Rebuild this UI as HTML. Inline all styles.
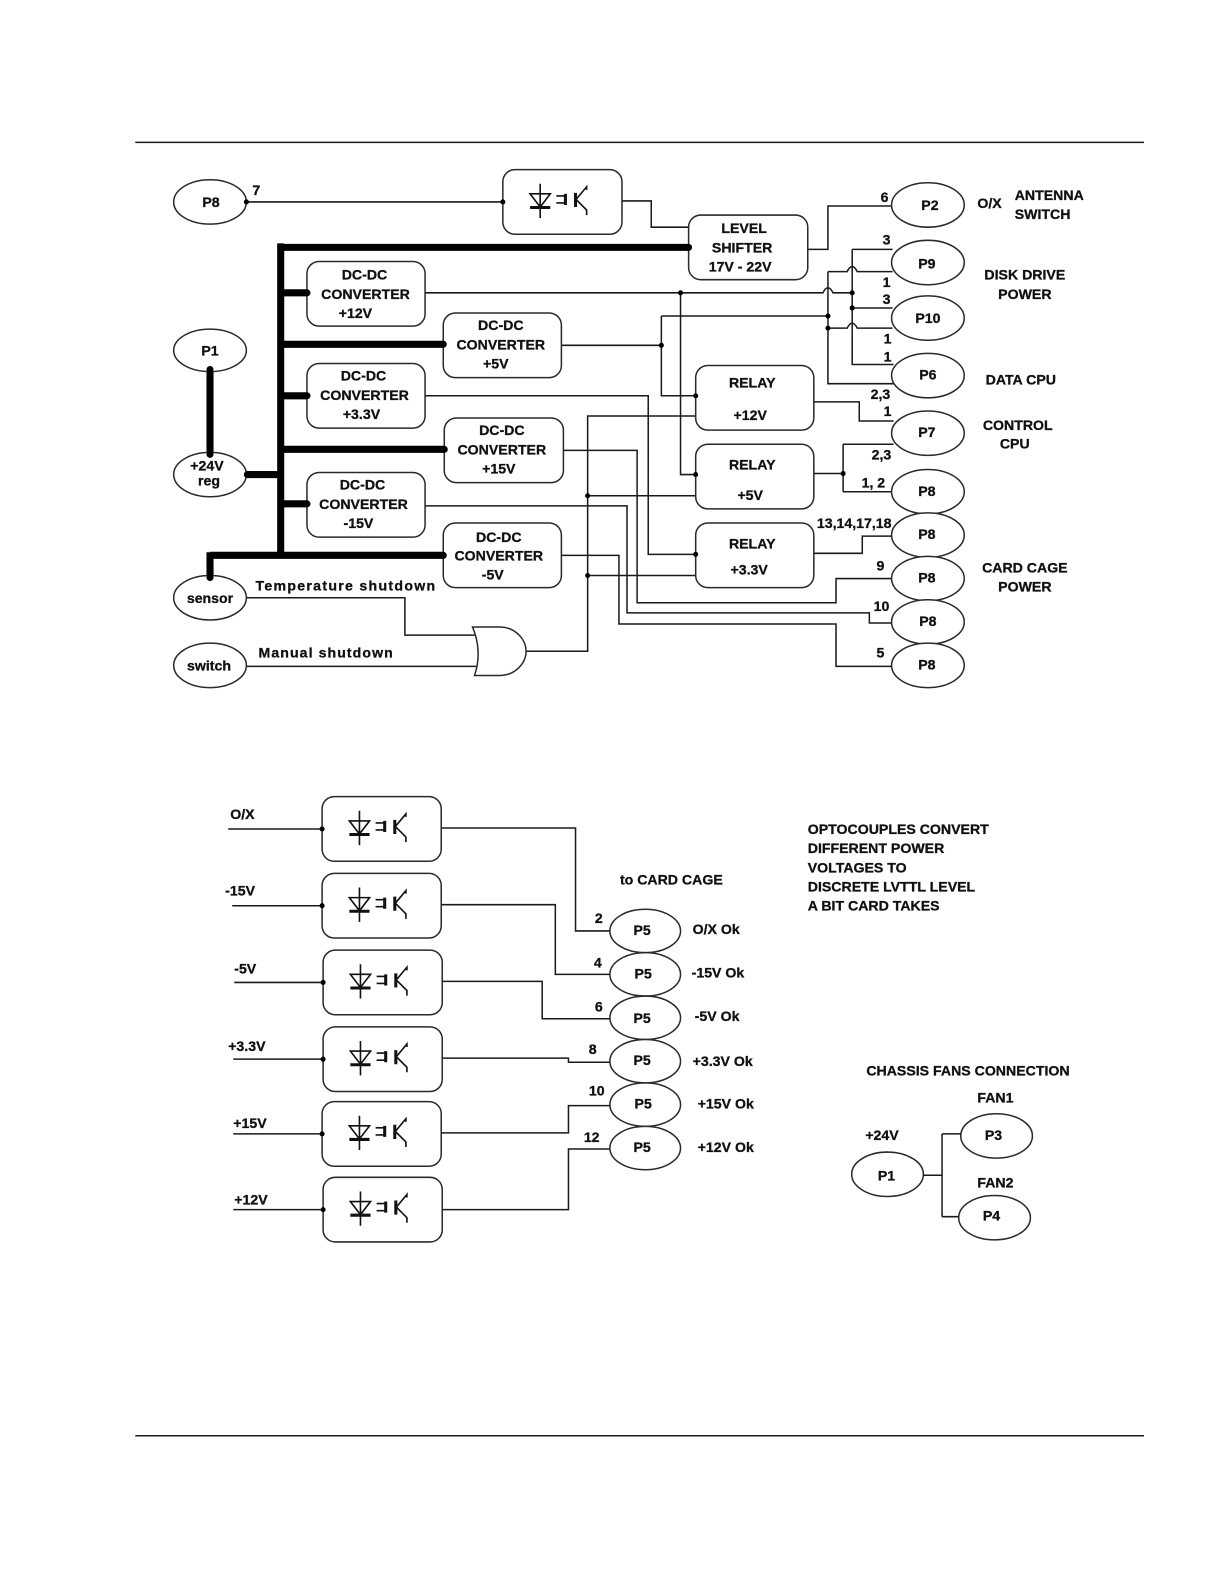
<!DOCTYPE html>
<html><head><meta charset="utf-8"><style>
html,body{margin:0;padding:0;background:#fff}
svg{display:block}
text{font-family:"Liberation Sans",sans-serif;font-weight:bold;font-size:14px;fill:#111;stroke:#111;stroke-width:.3;letter-spacing:0}
.m{text-anchor:middle}
.w{fill:none;stroke:#1a1a1a;stroke-width:1.5}
.t{fill:none;stroke:#000;stroke-width:7}
.b{fill:#fff;stroke:#2a2a2a;stroke-width:1.5}
</style></head><body>
<svg width="1224" height="1584" viewBox="0 0 1224 1584" xmlns="http://www.w3.org/2000/svg">
<defs>
<g id="o">
<rect class="b" x="0" y="0" width="118" height="64" rx="12" ry="12"/>
<g fill="none" stroke="#111" stroke-width="1.6">
<path d="M37 14V48M27 24H47L37 37ZM53 26H61M53 33H61M73 29L83 17V20M73 30L83 40V45"/>
<path d="M27 37.5H47M72 23V37M62 24V35" stroke-width="3"/>
</g>
</g>
</defs>
<g transform="scale(1.0097)">
<path class="w" d="M134 141H1133M134 1422H1133" stroke="#000"/>

<!-- thin wires -->
<path class="w" d="M244 200H498M616 199H645V225H682M800 247H820V204H884
M844 247H884M820 269H839Q844 259 849 269H884M820 269V380H885M844 247V361H885
M421 290H815Q820 280 825 290H844M844 305H884M820 325H839Q844 315 849 325H884
M655 313H820M655 313V392H689M556 342H655
M674 290V470H689
M806 398H851V417H885
M421 392H642V549H689
M521 645H582V412H689M582 491H689M582 570H689
M558 446H631V597H828V573H884
M421 501H621V607H861V617H884
M556 550H613V618H828V660H884
M806 469H835M835 440V487M835 440H885M835 487H884
M806 548H854V531H884
M244 592H401V629H470M244 660H472"/>

<!-- thick wires -->
<path class="t" d="M278 245H682M278 241V550M278 290H304M278 341H439M278 392H304M278 445H440M278 499H304M208 550H439M208 547V572M245 470H278M208 366V450"/>

<!-- OR gate -->
<path class="b" d="M468 621H495C510 621 521 633 521 645C521 657 510 669 495 669H470Q478 645 468 621Z"/>

<!-- boxes -->
<use href="#o" x="498" y="168"/>
<rect class="b" x="682" y="213" width="118" height="64" rx="12"/>
<rect class="b" x="304" y="259" width="117" height="64" rx="12"/>
<rect class="b" x="439" y="310" width="117" height="64" rx="12"/>
<rect class="b" x="304" y="360" width="117" height="64" rx="12"/>
<rect class="b" x="440" y="414" width="118" height="64" rx="12"/>
<rect class="b" x="304" y="468" width="117" height="64" rx="12"/>
<rect class="b" x="439" y="518" width="117" height="64" rx="12"/>
<rect class="b" x="689" y="362" width="117" height="64" rx="12"/>
<rect class="b" x="689" y="440" width="117" height="64" rx="12"/>
<rect class="b" x="689" y="518" width="117" height="64" rx="12"/>

<!-- ellipses -->
<g class="b">
<ellipse cx="208" cy="200" rx="36" ry="22"/><ellipse cx="208" cy="347" rx="36" ry="21"/><ellipse cx="208" cy="470" rx="36" ry="22"/><ellipse cx="208" cy="592" rx="36" ry="22"/><ellipse cx="208" cy="659" rx="36" ry="22"/>
<ellipse cx="919" cy="203" rx="36" ry="22"/><ellipse cx="919" cy="260" rx="36" ry="22"/><ellipse cx="919" cy="315" rx="36" ry="22"/><ellipse cx="919" cy="372" rx="36" ry="22"/><ellipse cx="919" cy="429" rx="36" ry="22"/><ellipse cx="919" cy="487" rx="36" ry="22"/><ellipse cx="919" cy="530" rx="36" ry="22"/><ellipse cx="919" cy="573" rx="36" ry="22"/><ellipse cx="919" cy="616" rx="36" ry="22"/><ellipse cx="919" cy="659" rx="36" ry="22"/>
<ellipse cx="639" cy="922" rx="35" ry="21.5"/><ellipse cx="639" cy="965" rx="35" ry="21.5"/><ellipse cx="639" cy="1008" rx="35" ry="21.5"/><ellipse cx="639" cy="1051" rx="35" ry="21.5"/><ellipse cx="639" cy="1094" rx="35" ry="21.5"/><ellipse cx="639" cy="1137" rx="35" ry="21.5"/>
<ellipse cx="879" cy="1163" rx="35.5" ry="22"/><ellipse cx="987" cy="1125" rx="35.5" ry="22"/><ellipse cx="985" cy="1206" rx="35.5" ry="22"/>
</g>
<path class="w" d="M914 1164H933M933 1123V1205M933 1123H952M933 1205H949"/>

<!-- lower section -->
<use href="#o" x="319" y="789"/><use href="#o" x="319" y="865"/><use href="#o" x="320" y="941"/><use href="#o" x="320" y="1017"/><use href="#o" x="319" y="1091"/><use href="#o" x="320" y="1166"/>
<path class="w" d="M226 821H319M230 897H319M232 973H320M231 1049H320M231 1123H319M231 1198H320
M437 820H570V922H604M437 896H550V965H604M438 972H537V1009H604M438 1048H563V1052H604M437 1122H563V1095H604M438 1198H563V1138H604"/>

<!-- dots -->
<g fill="#000">
<circle cx="244" cy="200" r="2.5"/><circle cx="498" cy="200" r="2.5"/>
<circle cx="682" cy="245" r="3.5"/><circle cx="304" cy="290" r="3.5"/><circle cx="439" cy="341" r="3.5"/><circle cx="304" cy="392" r="3.5"/><circle cx="440" cy="445" r="3.5"/><circle cx="304" cy="499" r="3.5"/><circle cx="439" cy="550" r="3.5"/><circle cx="245" cy="470" r="3.5"/><circle cx="208" cy="366" r="3.5"/><circle cx="208" cy="450" r="3.5"/><circle cx="208" cy="572" r="3.5"/>
<circle cx="674" cy="290" r="2.5"/><circle cx="844" cy="290" r="2.5"/><circle cx="844" cy="305" r="2.5"/><circle cx="820" cy="313" r="2.5"/><circle cx="820" cy="325" r="2.5"/><circle cx="655" cy="342" r="2.5"/><circle cx="689" cy="392" r="2.5"/><circle cx="689" cy="470" r="2.5"/><circle cx="689" cy="549" r="2.5"/><circle cx="582" cy="491" r="2.5"/><circle cx="582" cy="570" r="2.5"/><circle cx="835" cy="469" r="2.5"/>
<circle cx="319" cy="821" r="2.5"/><circle cx="319" cy="897" r="2.5"/><circle cx="320" cy="973" r="2.5"/><circle cx="320" cy="1049" r="2.5"/><circle cx="319" cy="1123" r="2.5"/><circle cx="320" cy="1198" r="2.5"/>
</g>

<!-- labels top -->
<text class="m" x="209" y="205">P8</text><text x="250" y="193">7</text>
<text class="m" x="876" y="200">6</text><text class="m" x="921" y="208">P2</text><text x="968" y="206">O/X</text><text x="1005" y="198">ANTENNA</text><text x="1005" y="217">SWITCH</text>
<text class="m" x="878" y="242">3</text><text class="m" x="918" y="266">P9</text><text class="m" x="878" y="284">1</text><text class="m" x="878" y="301">3</text><text class="m" x="919" y="320">P10</text><text class="m" x="879" y="340">1</text><text class="m" x="879" y="358">1</text><text class="m" x="919" y="376">P6</text><text class="m" x="872" y="395">2,3</text><text class="m" x="879" y="412">1</text><text class="m" x="918" y="433">P7</text><text class="m" x="873" y="455">2,3</text><text class="m" x="865" y="483">1, 2</text><text class="m" x="918" y="491">P8</text><text class="m" x="846" y="523">13,14,17,18</text><text class="m" x="918" y="534">P8</text><text class="m" x="872" y="565">9</text><text class="m" x="918" y="577">P8</text><text class="m" x="873" y="605">10</text><text class="m" x="919" y="620">P8</text><text class="m" x="872" y="651">5</text><text class="m" x="918" y="663">P8</text>
<text class="m" x="1015" y="277">DISK DRIVE</text><text class="m" x="1015" y="296">POWER</text><text class="m" x="1011" y="381">DATA CPU</text><text class="m" x="1008" y="426">CONTROL</text><text class="m" x="1005" y="444">CPU</text><text class="m" x="1015" y="567">CARD CAGE</text><text class="m" x="1015" y="586">POWER</text>
<text class="m" x="737" y="231">LEVEL</text><text class="m" x="735" y="250">SHIFTER</text><text class="m" x="733" y="269">17V - 22V</text>
<text class="m" x="361" y="277">DC-DC</text><text class="m" x="362" y="296">CONVERTER</text><text class="m" x="352" y="315">+12V</text>
<text class="m" x="496" y="327">DC-DC</text><text class="m" x="496" y="346">CONVERTER</text><text class="m" x="491" y="365">+5V</text>
<text class="m" x="360" y="377">DC-DC</text><text class="m" x="361" y="396">CONVERTER</text><text class="m" x="358" y="415">+3.3V</text>
<text class="m" x="497" y="431">DC-DC</text><text class="m" x="497" y="450">CONVERTER</text><text class="m" x="494" y="469">+15V</text>
<text class="m" x="359" y="485">DC-DC</text><text class="m" x="360" y="504">CONVERTER</text><text class="m" x="355" y="523">-15V</text>
<text class="m" x="494" y="537">DC-DC</text><text class="m" x="494" y="555">CONVERTER</text><text class="m" x="488" y="574">-5V</text>
<text class="m" x="745" y="384">RELAY</text><text class="m" x="743" y="416">+12V</text><text class="m" x="745" y="465">RELAY</text><text class="m" x="743" y="495">+5V</text><text class="m" x="745" y="543">RELAY</text><text class="m" x="742" y="569">+3.3V</text>
<text class="m" x="208" y="352">P1</text><text class="m" x="205" y="466">+24V</text><text class="m" x="207" y="481">reg</text><text class="m" x="208" y="597">sensor</text><text class="m" x="207" y="664">switch</text>
<text x="253" y="585" textLength="178">Temperature shutdown</text><text x="256" y="651" textLength="133">Manual shutdown</text>

<!-- labels lower -->
<text x="228" y="811">O/X</text><text x="223" y="887">-15V</text><text x="232" y="964">-5V</text><text x="226" y="1041">+3.3V</text><text x="231" y="1117">+15V</text><text x="232" y="1193">+12V</text>
<text x="614" y="876">to CARD CAGE</text>
<text class="m" x="593" y="914">2</text><text class="m" x="636" y="926">P5</text><text x="686" y="925">O/X Ok</text>
<text class="m" x="592" y="958">4</text><text class="m" x="637" y="969">P5</text><text x="685" y="968">-15V Ok</text>
<text class="m" x="593" y="1002">6</text><text class="m" x="636" y="1013">P5</text><text x="688" y="1011">-5V Ok</text>
<text class="m" x="587" y="1044">8</text><text class="m" x="636" y="1055">P5</text><text x="686" y="1056">+3.3V Ok</text>
<text class="m" x="591" y="1085">10</text><text class="m" x="637" y="1098">P5</text><text x="691" y="1098">+15V Ok</text>
<text class="m" x="586" y="1131">12</text><text class="m" x="636" y="1141">P5</text><text x="691" y="1141">+12V Ok</text>
<text x="800" y="826">OPTOCOUPLES CONVERT</text><text x="800" y="845">DIFFERENT POWER</text><text x="800" y="864">VOLTAGES TO</text><text x="800" y="883">DISCRETE LVTTL LEVEL</text><text x="800" y="902">A BIT CARD TAKES</text>
<text x="858" y="1065">CHASSIS FANS CONNECTION</text><text x="968" y="1092">FAN1</text><text x="857" y="1129">+24V</text><text class="m" x="878" y="1169">P1</text><text class="m" x="984" y="1129">P3</text><text x="968" y="1176">FAN2</text><text class="m" x="982" y="1209">P4</text>
</g>
</svg>
</body></html>
